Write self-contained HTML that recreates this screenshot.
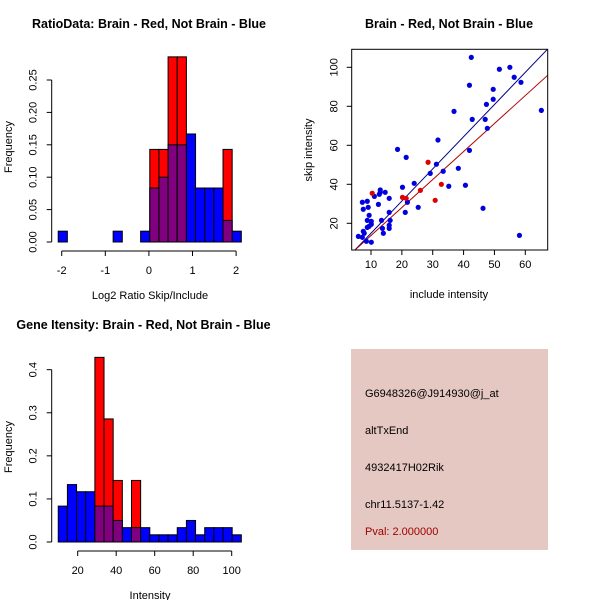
<!DOCTYPE html>
<html><head><meta charset="utf-8"><style>
body{margin:0;background:#fff}
svg{display:block;font-family:"Liberation Sans",sans-serif}
</style></head><body>
<svg id="s" width="600" height="600" viewBox="0 0 600 600">
<rect width="600" height="600" fill="#fff"/>
<g id="p1"></g>
<g id="p2"></g>
<g id="p3"></g>
<g>
<rect x="351" y="349" width="197" height="201" fill="#e5c8c2"/>
<g font-size="11" fill="#000">
<text x="365" y="397">G6948326@J914930@j_at</text>
<text x="365" y="434">altTxEnd</text>
<text x="365" y="471">4932417H02Rik</text>
<text x="365" y="508">chr11.5137-1.42</text>
<text x="365" y="535" fill="#a00000">Pval: 2.000000</text>
</g></g>
</svg>
<script>
// ---- Ratio histogram data ----
const ratioBinStart = -2.08;
const ratioBinWidth = 0.21;
const ratioBlue = [0.0167,0,0,0,0,0,0.0167,0,0,0.0167,0.0833,0.1,0.15,0.15,0.1667,0.0833,0.0833,0.0833,0.0333,0.0167];
const ratioRed  = [0,0,0,0,0,0,0,0,0,0,0.1429,0.1429,0.2857,0.2857,0,0,0,0,0.1429,0];
const ratioXTicks = [-2,-1,0,1,2];
const ratioYTicks = ["0.00","0.05","0.10","0.15","0.20","0.25"];
// ---- Intensity histogram data ----
const intBinStart = 9.9;
const intBinWidth = 4.755;
const intBlue = [0.0833,0.1333,0.1167,0.1167,0.0833,0.0833,0.05,0.0333,0.0333,0.0333,0.0167,0.0167,0.0167,0.0333,0.05,0.0167,0.0333,0.0333,0.0333,0.0167];
const intRed  = [0,0,0,0,0.4286,0.2857,0.1429,0,0.1429,0,0,0,0,0,0,0,0,0,0,0];
const intXTicks = [20,40,60,80,100];
const intYTicks = ["0.0","0.1","0.2","0.3","0.4"];
// ---- Scatter data ----
const blueX = [42.5,55,51.6,56.4,58.6,41.9,49.6,49.6,47.4,36.9,65.2,42.8,47,47.7,31.7,18.6,21.4,41.9,31.2,38.3,33.4,29.2,35.2,40.6,24,20.2,46.3,58.1,25.3,21.1,21.8,15.9,13,14.6,13,12.7,11.1,15.9,12.4,7.2,8.8,7.5,9.1,9.4,8.8,10.1,10.1,9.4,8.8,13.4,13.7,14,15.9,15.9,16.2,7.5,7.8,5.9,7.2,8.5,10.1];
const blueY = [105.1,100,99,94.9,92.3,90.8,88.7,83.6,81,77.4,77.9,73.3,73.3,68.7,62.7,57.9,53.8,57.4,50.3,48.2,46.7,45.6,39,39.5,40.5,38.5,27.7,13.8,28.2,25.6,30.8,25.6,35.9,35.9,37.1,34.9,33.8,32.8,29.7,30.8,31.3,27.2,28.2,24.1,21.5,21,19.5,18.5,17.9,21.5,17.4,14.9,19,17.4,21.5,15.9,14.9,13.3,12.8,10.8,10.3];
const redX = [10.4,28.5,20.2,21.4,26,30.8,32.8];
const redY = [35.4,51.3,33.3,32.8,36.9,31.8,40];
const blueFit = [-1.6,1.65]; // intercept, slope
const redFit = [-0.6,1.435];
const scXTicks = [10,20,30,40,50,60];
const scYTicks = [20,40,60,80,100];

const NS="http://www.w3.org/2000/svg";
function mk(parent,tag,attrs){const e=document.createElementNS(NS,tag);for(const k in attrs)e.setAttribute(k,attrs[k]);parent.appendChild(e);return e;}
const PURPLE="#800080";

function hist(g,o){
  const sx=v=>o.x0+(v-o.vx0)*o.kx, sy=v=>o.y0-v*o.ky;
  let t=mk(g,'text',{x:o.tx,y:o.ty,'font-size':12.5,'font-weight':'bold','text-anchor':'middle'});
  
  
  t.textContent=o.title;
  o.blue.forEach((b,i)=>{
    const r=o.red[i], l=sx(o.bs+i*o.bw), w=o.bw*o.kx;
    const mx=Math.max(b,r), mn=Math.min(b,r);
    if(mx>0){
      const rc=mk(g,'rect',{x:l,y:sy(mx),width:w,height:mx*o.ky,fill:b>=r?'#0000ff':'#ff0000',stroke:'#000','stroke-width':1});
      
      
    }
    if(mn>0){
      const rc=mk(g,'rect',{x:l,y:sy(mn),width:w,height:mn*o.ky,fill:PURPLE,stroke:'#000','stroke-width':1});
      
      
    }
  });
  const yv=o.yt.map(Number);
  mk(g,'line',{x1:o.ax,x2:o.ax,y1:sy(yv[0]),y2:sy(yv[yv.length-1]),stroke:'#000'});
  o.yt.forEach(s=>{const y=sy(Number(s));mk(g,'line',{x1:o.ax-5,x2:o.ax,y1:y,y2:y,stroke:'#000'});
    const tx=mk(g,'text',{x:o.ax-15,y:y,'font-size':11,'text-anchor':'middle',transform:`rotate(-90 ${o.ax-15} ${y})`});
    
    
    tx.textContent=s;});
  mk(g,'line',{x1:sx(o.xt[0]),x2:sx(o.xt[o.xt.length-1]),y1:o.ay,y2:o.ay,stroke:'#000'});
  o.xt.forEach(v=>{const x=sx(v);mk(g,'line',{x1:x,x2:x,y1:o.ay,y2:o.ay+5,stroke:'#000'});
    const tx=mk(g,'text',{x:x,y:o.ay+23,'font-size':11,'text-anchor':'middle'});
    
    
    tx.textContent=v;});
  let xl=mk(g,'text',{x:o.xlx,y:o.ay+48,'font-size':11,'text-anchor':'middle'});
  
  
  xl.textContent=o.xlab;
  let yl=mk(g,'text',{x:12,y:o.yly,'font-size':11,'text-anchor':'middle',transform:`rotate(-90 12 ${o.yly})`});
  
  
  yl.textContent='Frequency';
}
hist(document.getElementById('p1'),{x0:61.7,vx0:-2,kx:43.6,y0:242,ky:648,bs:ratioBinStart,bw:ratioBinWidth,blue:ratioBlue,red:ratioRed,
  xt:ratioXTicks,yt:ratioYTicks,ax:51.7,ay:251,title:'RatioData: Brain - Red, Not Brain - Blue',tx:149,ty:28,xlab:'Log2 Ratio Skip/Include',xlx:150,yly:147});
hist(document.getElementById('p3'),{x0:77.7,vx0:20,kx:1.925,y0:542,ky:430.8,bs:intBinStart,bw:intBinWidth,blue:intBlue,red:intRed,
  xt:intXTicks,yt:intYTicks,ax:51.7,ay:551,title:'Gene Itensity: Brain - Red, Not Brain - Blue',tx:143.5,ty:329,xlab:'Intensity',xlx:150,yly:447});

(function(){
  const g=document.getElementById('p2');
  const L=351.7,R=547.7,T=49.3,B=250;
  const sx=v=>371+(v-10)*3.086, sy=v=>223.3-(v-20)*1.95;
  let t=mk(g,'text',{x:449,y:28,'font-size':12.5,'font-weight':'bold','text-anchor':'middle'});
  
  
  t.textContent='Brain - Red, Not Brain - Blue';
  const clip=mk(g,'clipPath',{id:'c2'});mk(clip,'rect',{x:L,y:T,width:R-L,height:B-T});
  const lg=mk(g,'g',{'clip-path':'url(#c2)'});
  [[blueFit,'#00008b','blue-fit-line'],[redFit,'#b00000','red-fit-line']].forEach(([f,c,n])=>{
    const x1=0,x2=80;
    const ln=mk(lg,'line',{x1:sx(x1),y1:sy(f[0]+f[1]*x1),x2:sx(x2),y2:sy(f[0]+f[1]*x2),stroke:c,'stroke-width':1});
    
    
  });
  blueX.forEach((x,i)=>{const c=mk(g,'circle',{cx:sx(x),cy:sy(blueY[i]),r:2.6,fill:'#0000dd'});
    
    });
  redX.forEach((x,i)=>{const c=mk(g,'circle',{cx:sx(x),cy:sy(redY[i]),r:2.6,fill:'#dd0000'});
    
    });
  mk(g,'rect',{x:L,y:T,width:R-L,height:B-T,fill:'none',stroke:'#000'});
  scXTicks.forEach(v=>{const x=sx(v);mk(g,'line',{x1:x,x2:x,y1:B,y2:B+5,stroke:'#000'});
    const tx=mk(g,'text',{x:x,y:B+18,'font-size':11,'text-anchor':'middle'});
    
    
    tx.textContent=v;});
  scYTicks.forEach(v=>{const y=sy(v);mk(g,'line',{x1:L-5,x2:L,y1:y,y2:y,stroke:'#000'});
    const tx=mk(g,'text',{x:L-14,y:y,'font-size':11,'text-anchor':'middle',transform:`rotate(-90 ${L-14} ${y})`});
    
    
    tx.textContent=v;});
  let xl=mk(g,'text',{x:449,y:298,'font-size':11,'text-anchor':'middle'});
  
  
  xl.textContent='include intensity';
  let yl=mk(g,'text',{x:312,y:150,'font-size':11,'text-anchor':'middle',transform:'rotate(-90 312 150)'});
  
  
  yl.textContent='skip intensity';
})();
</script>
</body></html>
